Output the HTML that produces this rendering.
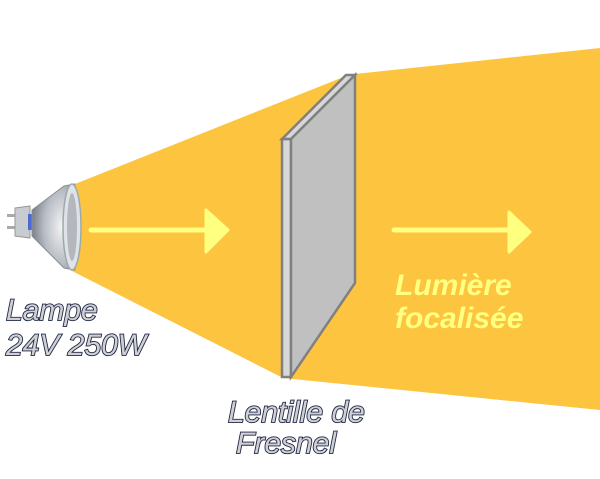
<!DOCTYPE html>
<html><head><meta charset="utf-8"><style>
html,body{margin:0;padding:0;background:#fff}
svg{display:block}
.lab{font-family:"Liberation Sans",sans-serif;font-style:italic;font-size:30px;fill:#d0d0d0;stroke:#1c2448;stroke-width:1.8px;paint-order:stroke}
.y{font-family:"Liberation Sans",sans-serif;font-style:italic;font-weight:bold;font-size:30px;fill:#ffff80}
</style></head><body>
<svg width="600" height="479" viewBox="0 0 600 479">
<defs>
<radialGradient id="g" cx="0.7" cy="0.5" r="0.7">
<stop offset="0" stop-color="#f4f4f4"/><stop offset="0.6" stop-color="#b8bcc4"/><stop offset="1" stop-color="#7c8088"/>
</radialGradient>
</defs>
<polygon points="70,186 346,76 355,76 292,378 283,378 70,270" fill="#fdc440"/>
<polygon points="346,75 600,48 600,410 283,378" fill="#fdc440"/>
<line x1="91" y1="230" x2="210" y2="230" stroke="#ffff80" stroke-width="5" stroke-linecap="round"/>
<polygon points="206,210 228,230 206,252" fill="#ffff80" stroke="#ffff80" stroke-width="3" stroke-linejoin="round"/>
<line x1="394" y1="230" x2="512" y2="230" stroke="#ffff80" stroke-width="5" stroke-linecap="round"/>
<polygon points="509,212 530,232 509,252" fill="#ffff80" stroke="#ffff80" stroke-width="3" stroke-linejoin="round"/>
<polygon points="282,139 291,139 291,377 282,377" fill="#d8d8d8" stroke="#808080" stroke-width="2.5"/>
<polygon points="282,139 346,75 355,75 291,139" fill="#d8d8d8" stroke="#808080" stroke-width="2.5"/>
<polygon points="291,139 355,75 355,283 291,377" fill="#c0c0c0" stroke="#808080" stroke-width="2.5"/>
<rect x="7" y="214" width="10" height="3" fill="#aaa"/>
<rect x="7" y="226" width="10" height="3" fill="#aaa"/>
<polygon points="15,208 30,206 30,238 15,236" fill="#c8ccd0" stroke="#999" stroke-width="1"/>
<rect x="28" y="214" width="4" height="16" fill="#4a6ad0"/>
<polygon points="32,210 64,186 75,184 75,270 64,268 32,236" fill="url(#g)" stroke="#8a8e96" stroke-width="1"/>
<ellipse cx="72" cy="227" rx="9" ry="43" fill="#dfe2e6" stroke="#9aa" stroke-width="1.5"/>
<ellipse cx="72" cy="227" rx="5" ry="34" fill="#b4b8be"/>
<text class="lab" x="6" y="320">Lampe</text>
<text class="lab" x="6" y="355">24V 250W</text>
<text class="lab" x="228" y="422">Lentille de</text>
<text class="lab" x="236" y="453">Fresnel</text>
<text class="y" x="395" y="295">Lumière</text>
<text class="y" x="395" y="328">focalisée</text>
</svg>
</body></html>
